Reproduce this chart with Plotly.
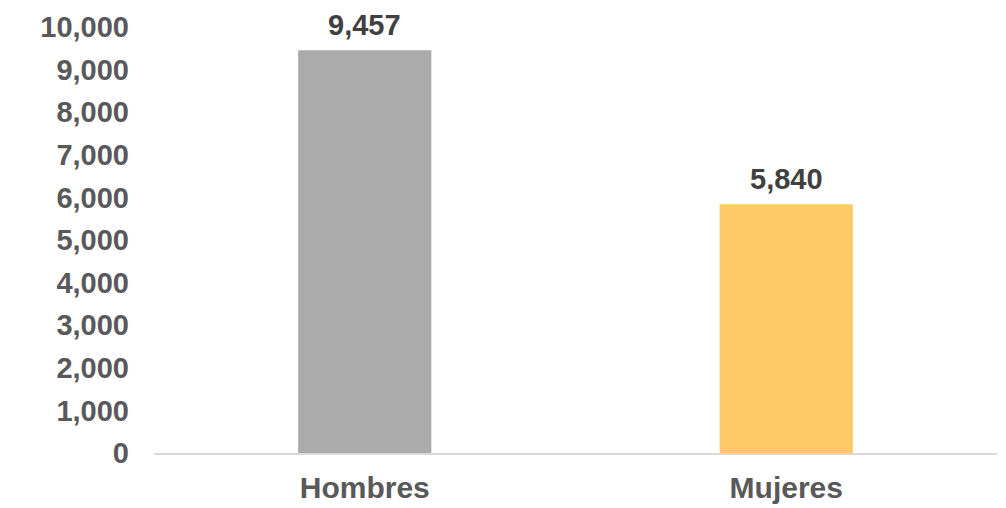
import plotly.graph_objects as go

categories = ["Hombres", "Mujeres"]
values = [9457, 5840]
bar_colors = ["#ABABAB", "#FECA66"]
tick_vals = list(range(0, 10001, 1000))
tick_text = [f"{v:,}" for v in tick_vals]
value_labels = [f"{v:,}" for v in values]

fig = go.Figure()
fig.add_trace(go.Bar(
    x=categories, y=values, marker=dict(color=bar_colors, line=dict(width=0)),
    width=0.316, hoverinfo="skip",
))

for c, v, t in zip(categories, values, value_labels):
    fig.add_annotation(x=c, y=v, text=f"<b>{t}</b>", showarrow=False,
                       yanchor="bottom", yshift=7,
                       font=dict(family="Liberation Sans, Arial, sans-serif", size=29, color="#404040"))

# page body has an 8px margin, so the figure is sized to fit the 1006x508 window
fig.update_layout(
    width=998, height=500,
    margin=dict(l=146, r=9, t=19, b=55, autoexpand=False),
    paper_bgcolor="white", plot_bgcolor="white",
    showlegend=False,
    font=dict(family="Liberation Sans, Arial, sans-serif", size=29, color="#595959"),
)
fig.update_xaxes(
    showline=True, linecolor="#D9D9D9", linewidth=1.5,
    showgrid=False, ticks="", ticklabelstandoff=7, automargin=False,
    tickfont=dict(size=30, color="#595959", weight="bold"),
)
fig.update_yaxes(
    range=[0, 10000], tickvals=tick_vals, ticktext=tick_text,
    showgrid=False, zeroline=False, showline=False, ticks="",
    ticklabelstandoff=24, automargin=False,
    tickfont=dict(size=29, color="#595959", weight="bold"),
)

fig.write_html("out.html")
